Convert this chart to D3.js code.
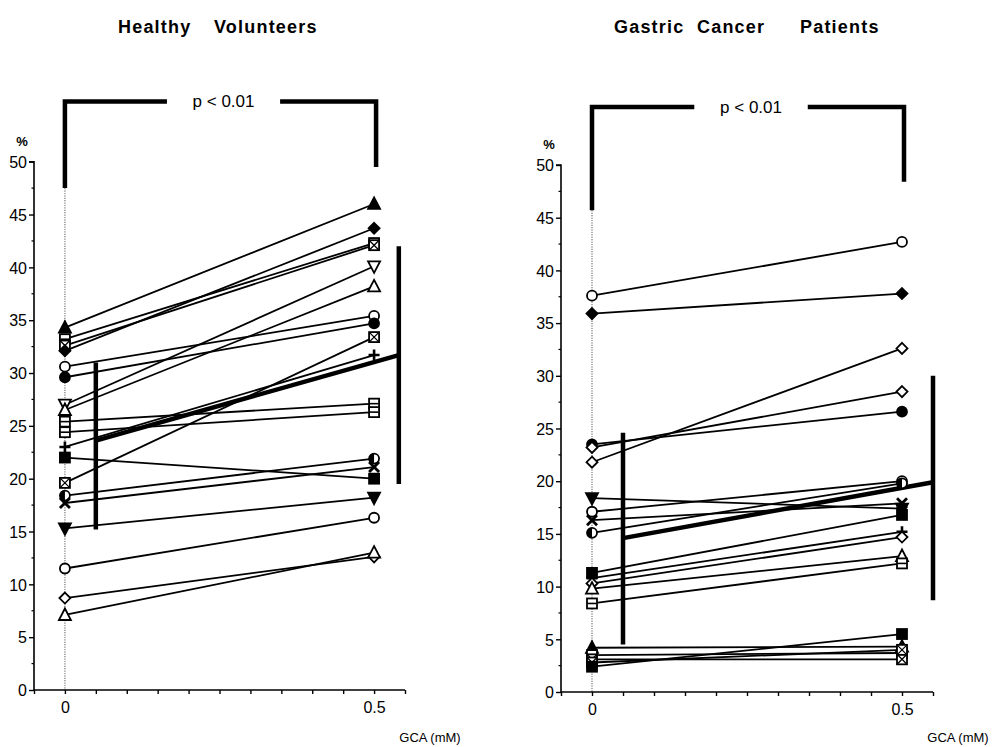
<!DOCTYPE html>
<html><head><meta charset="utf-8">
<script src="https://cdn.jsdelivr.net/npm/d3@7/dist/d3.min.js"></script>
<style>body{margin:0;background:#fff}svg{display:block}text{font-family:"Liberation Sans",Arial,sans-serif;fill:#000}</style>
</head><body>
<svg id="c" width="1000" height="747"></svg>
<script>
// ---------- DATA ----------
const doses = [0, 0.5];
const xTickValues = [-0.05,0,0.05,0.1,0.15,0.2,0.25,0.3,0.35,0.4,0.45,0.5,0.55];
const xTickLabels = ["0","0.5"];
const yMajorTicks = [0,5,10,15,20,25,30,35,40,45,50];
const yMinorTicks = [2.5,7.5,12.5,17.5,22.5,27.5,32.5,37.5,42.5,47.5];

// Healthy volunteers
const hvStart = [34.3, 33.2, 32.6, 32.1, 30.6, 29.6, 27.0, 26.5, 25.4, 24.4, 23.0, 22.0, 19.6, 18.4, 17.7, 15.3, 11.5, 8.7, 7.1];
const hvEnd   = [46.0, 42.3, 42.1, 43.7, 35.4, 34.7, 40.1, 38.2, 27.1, 26.3, 31.7, 20.0, 33.4, 21.9, 21.1, 18.2, 16.3, 12.6, 13.0];
const hvSym   = ["triF","sqH","sqX","diaF","circ","circF","dtri","tri","sqH","sqH","plus","sqF","sqX","half","x","dtriF","circ","dia","tri"];
const hvMean  = [23.6, 31.7];
const hvBarX  = [0.05, 0.54];
const hvSdLow = [15.2, 19.5];
const hvSdHigh= [31.0, 42.0];
const hvBracket = [55.7, 47.5, 49.5];   // top, left foot, right foot

// Gastric cancer patients
const gcStart = [37.6, 35.9, 23.5, 23.2, 21.8, 18.4, 17.1, 16.3, 15.1, 11.3, 10.8, 10.3, 9.8, 8.4, 4.2, 3.5, 3.1, 2.8, 2.4];
const gcEnd   = [42.7, 37.8, 26.6, 28.5, 32.6, 17.4, 20.0, 17.9, 19.8, 16.8, 15.2, 14.7, 12.9, 12.2, 4.3, 3.7, 3.1, 4.0, 5.5];
const gcSym   = ["circ","diaF","circF","dia","dia","dtriF","circ","x","half","sqF","plus","dia","tri","sqH","triF","sqH","sqX","sqX","sqF"];
const gcMean  = [14.6, 19.9];
const gcBarX  = [0.05, 0.55];
const gcSdLow = [4.5, 8.7];
const gcSdHigh= [24.6, 30.0];
const gcBracket = [55.5, 45.7, 48.4];

const hvTitleWords = ["Healthy", "Volunteers"];
const gcTitleWords = ["Gastric", "Cancer", "Patients"];

// ---------- DRAW ----------
const svg = d3.select("#c");

const panels = [
  {words: hvTitleWords, wx: [118, 214], start: hvStart, end: hvEnd, sym: hvSym, mean: hvMean, barX: hvBarX, lo: hvSdLow, hi: hvSdHigh, br: hvBracket,
   xr: [34, 405], yr: [690, 161.7]},
  {words: gcTitleWords, wx: [614, 697, 800], start: gcStart, end: gcEnd, sym: gcSym, mean: gcMean, barX: gcBarX, lo: gcSdLow, hi: gcSdHigh, br: gcBracket,
   xr: [561, 933], yr: [692, 165]}
];

function drawSym(g, type, cx, cy) {
  const r = 5.5;
  const s = g.append("g").attr("transform", `translate(${cx},${cy})`);
  const sw = 1.8;
  const filled = type.endsWith("F");
  const fill = filled ? "#000" : "#fff";
  switch (type) {
    case "tri": case "triF":
      s.append("path").attr("d", `M0,${-r-1}L${r+0.5},${r-0.5}L${-r-0.5},${r-0.5}Z`).attr("fill", fill).attr("stroke","#000").attr("stroke-width",sw); break;
    case "dtri": case "dtriF":
      s.append("path").attr("d", `M0,${r+1}L${r+0.5},${-r+0.5}L${-r-0.5},${-r+0.5}Z`).attr("fill", fill).attr("stroke","#000").attr("stroke-width",sw); break;
    case "circ": case "circF":
      s.append("circle").attr("r", r-0.5).attr("fill", fill).attr("stroke","#000").attr("stroke-width",sw); break;
    case "half":
      s.append("circle").attr("r", r-0.5).attr("fill", "#fff").attr("stroke","#000").attr("stroke-width",sw);
      s.append("path").attr("d", `M0,${-r+0.5}A${r-0.5},${r-0.5} 0 0 0 0,${r-0.5}Z`).attr("fill","#000"); break;
    case "sq": case "sqF":
      s.append("rect").attr("x",-r+0.5).attr("y",-r+0.5).attr("width",2*r-1).attr("height",2*r-1).attr("fill", fill).attr("stroke","#000").attr("stroke-width",sw); break;
    case "sqX":
      s.append("rect").attr("x",-r+0.5).attr("y",-r+0.5).attr("width",2*r-1).attr("height",2*r-1).attr("fill","#fff").attr("stroke","#000").attr("stroke-width",sw);
      s.append("path").attr("d",`M${-r+1},${-r+1}L${r-1},${r-1}M${r-1},${-r+1}L${-r+1},${r-1}`).attr("stroke","#000").attr("stroke-width",1.3); break;
    case "sqH":
      s.append("rect").attr("x",-r+0.5).attr("y",-r+0.5).attr("width",2*r-1).attr("height",2*r-1).attr("fill","#fff").attr("stroke","#000").attr("stroke-width",sw);
      s.append("path").attr("d",`M${-r+1},0L${r-1},0`).attr("stroke","#000").attr("stroke-width",1.6); break;
    case "dia": case "diaF":
      s.append("path").attr("d", `M0,${-r}L${r},0L0,${r}L${-r},0Z`).attr("fill", fill).attr("stroke","#000").attr("stroke-width",sw); break;
    case "plus":
      s.append("path").attr("d", `M${-r},0L${r},0M0,${-r}L0,${r}`).attr("stroke","#000").attr("stroke-width",2.6); break;
    case "x":
      s.append("path").attr("d", `M${-r+0.5},${-r+0.5}L${r-0.5},${r-0.5}M${r-0.5},${-r+0.5}L${-r+0.5},${r-0.5}`).attr("stroke","#000").attr("stroke-width",2.8); break;
  }
}

panels.forEach(p => {
  const x = d3.scaleLinear().domain([-0.05, 0.55]).range(p.xr);
  const y = d3.scaleLinear().domain([0, 50]).range(p.yr);
  const g = svg.append("g");

  // title
  const t = g.append("text").attr("y", 33).attr("font-size", 18).attr("font-weight","bold")
    .style("letter-spacing", "1.2px");
  p.words.forEach((w, i) => t.append("tspan").attr("x", p.wx[i]).text(w));

  // dotted reference line at dose 0
  g.append("line").attr("x1", x(0)).attr("x2", x(0)).attr("y1", y(p.br[1])).attr("y2", y(0))
    .attr("stroke","#777").attr("stroke-width",1.2).attr("stroke-dasharray","1.2,1.2");

  // y axis
  const yAxis = d3.axisLeft(y).tickValues(yMajorTicks).tickSize(5).tickPadding(2).tickFormat(d3.format("d"));
  const ya = g.append("g").attr("transform", `translate(${p.xr[0]},0)`).call(yAxis);
  ya.select(".domain").attr("stroke-width",1.6).attr("d", `M-5,${y(50)}H0V${y(0)}`);
  ya.selectAll(".tick line").attr("stroke-width",1.4);
  ya.selectAll(".tick text").attr("font-size",16).attr("font-family",'"Liberation Sans",Arial,sans-serif').attr("dy","0.36em");
  g.append("g").selectAll("line").data(yMinorTicks).join("line")
    .attr("x1", p.xr[0]-2.5).attr("x2", p.xr[0]).attr("y1", d=>y(d)).attr("y2", d=>y(d))
    .attr("stroke","#000").attr("stroke-width",1.2);
  g.append("text").attr("x", p.xr[0]-12).attr("y", y(50)-16).attr("text-anchor","middle")
    .attr("font-size",13).attr("font-weight","bold").text("%");

  // x axis
  const xAxis = d3.axisBottom(x).tickValues(xTickValues).tickSize(4).tickPadding(8)
    .tickFormat(d => Math.abs(d) < 1e-9 ? xTickLabels[0] : (Math.abs(d-0.5) < 1e-9 ? xTickLabels[1] : ""));
  const xa = g.append("g").attr("transform", `translate(0,${y(0)})`).call(xAxis);
  xa.select(".domain").attr("stroke-width",1.6).attr("d", `M${p.xr[0]},0H${p.xr[1]}`);
  xa.selectAll(".tick line").attr("stroke-width",1.4);
  xa.selectAll(".tick text").attr("font-size",16).attr("font-family",'"Liberation Sans",Arial,sans-serif');
  g.append("text").attr("x", p.xr[1]+25).attr("y", 742).attr("text-anchor","middle")
    .attr("font-size",13).text("GCA (mM)");

  // bracket
  const gap = [0.165, 0.348];
  const bx0 = x(0), bx1 = x(0.5) + 2;
  g.append("path").attr("d", `M${bx0},${y(p.br[1])}V${y(p.br[0])}H${x(gap[0])}M${x(gap[1])},${y(p.br[0])}H${bx1}V${y(p.br[2])}`)
    .attr("fill","none").attr("stroke","#000").attr("stroke-width",4.5).attr("stroke-linecap","butt").attr("stroke-linejoin","miter");
  g.append("text").attr("x", (x(gap[0])+x(gap[1]))/2).attr("y", y(p.br[0])+6).attr("text-anchor","middle")
    .attr("font-size",17).text("p < 0.01");

  // individual lines
  const idx = d3.range(p.start.length);
  g.append("g").selectAll("line").data(idx).join("line")
    .attr("x1", x(doses[0])).attr("x2", x(doses[1]))
    .attr("y1", i => y(p.start[i])).attr("y2", i => y(p.end[i]))
    .attr("stroke","#000").attr("stroke-width",1.8);

  // mean line and SD bars
  g.append("line").attr("x1", x(p.barX[0])).attr("x2", x(p.barX[1]))
    .attr("y1", y(p.mean[0])).attr("y2", y(p.mean[1]))
    .attr("stroke","#000").attr("stroke-width",4.5);
  g.append("g").selectAll("line").data([0,1]).join("line")
    .attr("x1", i => x(p.barX[i])).attr("x2", i => x(p.barX[i]))
    .attr("y1", i => y(p.lo[i])).attr("y2", i => y(p.hi[i]))
    .attr("stroke","#000").attr("stroke-width",4.5);

  // markers
  const mg = g.append("g");
  idx.forEach(i => {
    drawSym(mg, p.sym[i], x(doses[0]), y(p.start[i]));
    drawSym(mg, p.sym[i], x(doses[1]), y(p.end[i]));
  });
});
</script>
</body></html>
